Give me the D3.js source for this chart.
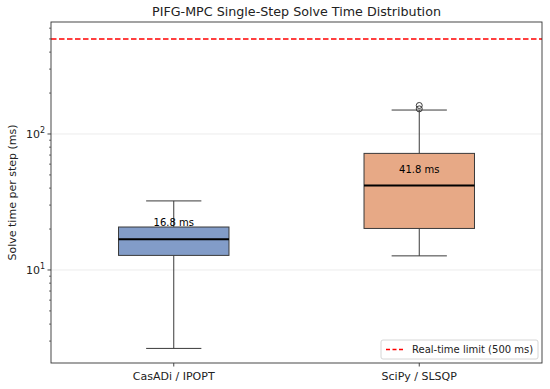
<!DOCTYPE html>
<html><head><meta charset="utf-8">
<script src="https://cdn.jsdelivr.net/npm/d3@7"></script>
<style>body{margin:0;background:#fff}svg{font-family:"DejaVu Sans",sans-serif}</style>
</head><body><svg id="c" width="550" height="389"></svg>
<script>
const categories = ["CasADi / IPOPT", "SciPy / SLSQP"];
const whiskerLow = [2.65, 12.7];
const q1 = [12.8, 20.2];
const median = [16.8, 41.8];
const q3 = [20.7, 72];
const whiskerHigh = [32.2, 150];
const outliers = [[], [153, 162]];
const boxColors = ["#829cc8", "#e7a986"];
const medianLabels = ["16.8 ms", "41.8 ms"];
const limitValue = 500;
const yDomain = [2.07, 666];
const majorTicks = [10, 100];
const legendLabel = "Real-time limit (500 ms)";

const svg = d3.select("#c");
const L = 51, R = 542, T = 22, B = 363;
const x = d3.scaleLinear().domain([0.5, 2.5]).range([L, R]);
const y = d3.scaleLog().domain(yDomain).range([B, T]);
const bw = (x(1.45) - x(1)) ;

// grid
svg.append("g").selectAll("line").data(majorTicks).join("line")
  .attr("x1", L).attr("x2", R).attr("y1", d => y(d)).attr("y2", d => y(d))
  .attr("stroke", "#b0b0b0").attr("stroke-opacity", 0.3).attr("stroke-width", 0.8);

// boxes
categories.forEach((c, i) => {
  const cx = x(i + 1);
  const g = svg.append("g");
  const st = "#3a3a3a";
  g.append("line").attr("x1", cx).attr("x2", cx).attr("y1", y(whiskerLow[i])).attr("y2", y(q1[i])).attr("stroke", st).attr("stroke-width", 1);
  g.append("line").attr("x1", cx).attr("x2", cx).attr("y1", y(q3[i])).attr("y2", y(whiskerHigh[i])).attr("stroke", st).attr("stroke-width", 1);
  [whiskerLow[i], whiskerHigh[i]].forEach(v => {
    g.append("line").attr("x1", cx - bw / 4).attr("x2", cx + bw / 4).attr("y1", y(v)).attr("y2", y(v)).attr("stroke", st).attr("stroke-width", 1);
  });
  g.append("rect").attr("x", cx - bw / 2).attr("width", bw)
    .attr("y", y(q3[i])).attr("height", y(q1[i]) - y(q3[i]))
    .attr("fill", boxColors[i]).attr("stroke", st).attr("stroke-width", 1);
  g.append("line").attr("x1", cx - bw / 2).attr("x2", cx + bw / 2).attr("y1", y(median[i])).attr("y2", y(median[i])).attr("stroke", "#000").attr("stroke-width", 2);
  outliers[i].forEach(v => {
    g.append("circle").attr("cx", cx).attr("cy", y(v)).attr("r", 3).attr("fill", "none").attr("stroke", st).attr("stroke-width", 1);
  });
  g.append("text").attr("x", cx).attr("y", y(median[i]) - 13).attr("text-anchor", "middle")
    .attr("font-size", 10).attr("fill", "#000").text(medianLabels[i]);
});

// limit line
svg.append("line").attr("x1", L).attr("x2", R).attr("y1", y(limitValue)).attr("y2", y(limitValue))
  .attr("stroke", "#ff0000").attr("stroke-width", 1.5).attr("stroke-dasharray", "5.5,2.5");

// frame
svg.append("rect").attr("x", L).attr("y", T).attr("width", R - L).attr("height", B - T)
  .attr("fill", "none").attr("stroke", "#333").attr("stroke-width", 0.9);

// y ticks
const minor = [];
for (let e = 0; e <= 2; e++) for (let m = 2; m <= 9; m++) { const v = m * Math.pow(10, e); if (v >= yDomain[0] && v <= yDomain[1]) minor.push(v); }
svg.append("g").selectAll("line").data(minor).join("line")
  .attr("x1", L - 2).attr("x2", L).attr("y1", d => y(d)).attr("y2", d => y(d)).attr("stroke", "#333").attr("stroke-width", 0.7);
svg.append("g").selectAll("line").data(majorTicks).join("line")
  .attr("x1", L - 3.5).attr("x2", L).attr("y1", d => y(d)).attr("y2", d => y(d)).attr("stroke", "#333").attr("stroke-width", 0.9);
majorTicks.forEach(v => {
  const t = svg.append("text").attr("x", L - 6).attr("y", y(v) + 4).attr("text-anchor", "end").attr("font-size", 11).attr("fill", "#222");
  t.append("tspan").text("10");
  t.append("tspan").attr("dy", -5).attr("font-size", 8).text(Math.round(Math.log10(v)));
});

// x ticks
categories.forEach((c, i) => {
  svg.append("line").attr("x1", x(i + 1)).attr("x2", x(i + 1)).attr("y1", B).attr("y2", B + 3.5).attr("stroke", "#333").attr("stroke-width", 0.9);
  svg.append("text").attr("x", x(i + 1)).attr("y", B + 17).attr("text-anchor", "middle").attr("font-size", 11).attr("fill", "#222").text(c);
});

// labels
svg.append("text").attr("x", (L + R) / 2).attr("y", 16).attr("text-anchor", "middle").attr("font-size", 12.7).attr("fill", "#222")
  .text("PIFG-MPC Single-Step Solve Time Distribution");
svg.append("text").attr("transform", `translate(16,${(T + B) / 2}) rotate(-90)`).attr("text-anchor", "middle")
  .attr("font-size", 11).attr("fill", "#222").text("Solve time per step (ms)");

// legend
const lg = svg.append("g");
lg.append("rect").attr("x", 381).attr("y", 340).attr("width", 157).attr("height", 19).attr("rx", 2)
  .attr("fill", "#fff").attr("fill-opacity", 0.8).attr("stroke", "#ccc").attr("stroke-width", 0.8);
lg.append("line").attr("x1", 386).attr("x2", 404).attr("y1", 349.5).attr("y2", 349.5)
  .attr("stroke", "#ff0000").attr("stroke-width", 1.5).attr("stroke-dasharray", "4,2.5");
lg.append("text").attr("x", 412).attr("y", 353).attr("font-size", 10).attr("fill", "#222").text(legendLabel);
</script></body></html>
